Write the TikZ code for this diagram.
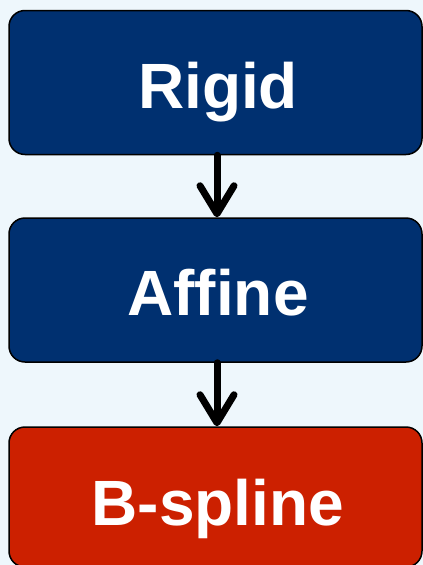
\documentclass[tikz,border=0pt]{standalone}
\usepackage{fontspec}
\setmainfont{Liberation Sans}
\usetikzlibrary{arrows.meta}
\definecolor{bg}{RGB}{238,247,252}
\definecolor{boxblue}{RGB}{0,48,112}
\definecolor{boxred}{RGB}{204,32,0}
\tikzset{
  stage/.style={draw=black, line width=1.5pt, rounded corners=16pt, minimum width=413pt, minimum height=144pt, inner sep=0pt, text=white, font=\fontsize{64}{64}\selectfont\bfseries},
  label/.style={text=white, font=\fontsize{64}{64}\selectfont\bfseries, inner sep=0pt, anchor=base},
  flow/.style={line width=7pt, line cap=round, -{Straight Barb[length=28pt, width=34pt, line width=7pt, round]}}
}
\begin{document}
\begin{tikzpicture}[x=1pt,y=-1pt]
\fill[bg] (0,0) rectangle (423,565);
\useasboundingbox (0,0) rectangle (423,565);
\node[stage, fill=boxblue] (rigid) at (215.5,82.5) {};
\node[stage, fill=boxblue] (affine) at (215.5,290) {};
\node[stage, fill=boxred, minimum height=140pt] (bspline) at (215.5,497) {};
\node[label] (trigid) at (218,108) {Rigid};
\node[label] (taffine) at (218,315) {Affine};
\node[label] (tbspline) at (218,525) {B-spline};
\draw[flow] (rigid.south -| 217,0) -- (affine.north -| 217,0);
\draw[flow] (affine.south -| 217,0) -- (bspline.north -| 217,0);
\end{tikzpicture}
\end{document}
